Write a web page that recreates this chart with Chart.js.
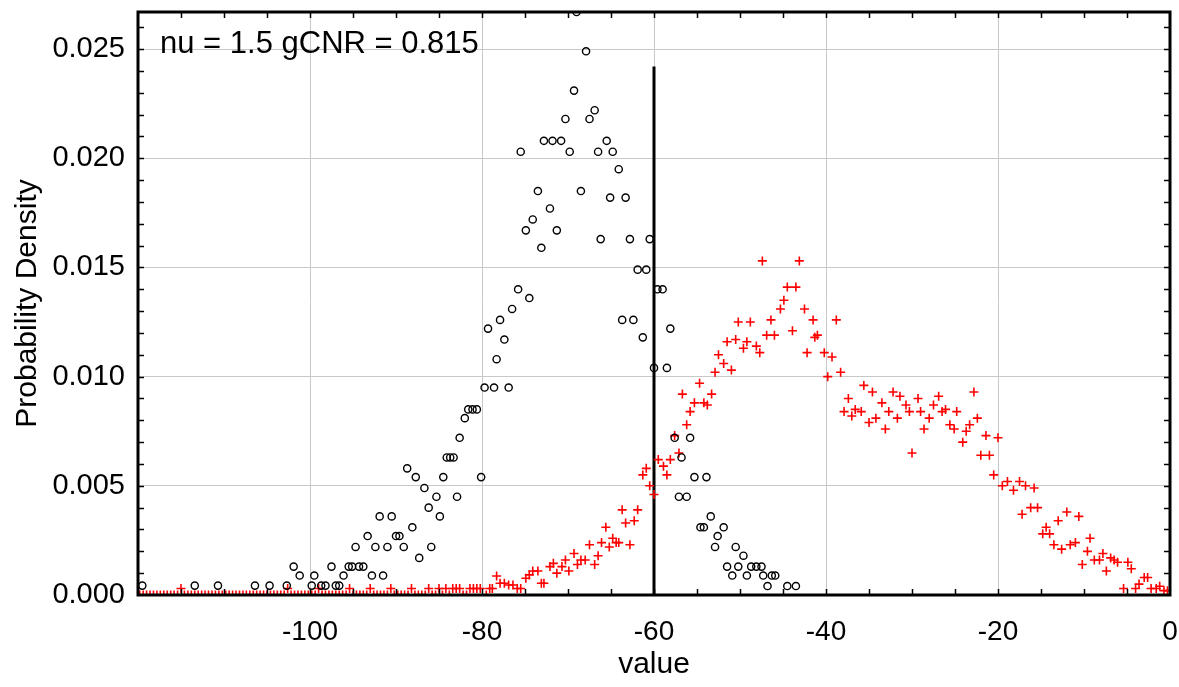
<!DOCTYPE html>
<html lang="en">
<head>
<meta charset="UTF-8">
<title>Probability Density</title>
<script src="https://cdn.jsdelivr.net/npm/chart.js"></script>
<style>
  html, body { margin: 0; padding: 0; background: #fff; }
  canvas { display: block; }
</style>
</head>
<body>
<canvas id="grafico" width="1179" height="687"></canvas>
<script>
// ---- dados ----
const blackX = [-119.5,-113.4,-110.7,-106.4,-104.7,-102.7,-101.9,-101.2,-99.8,-99.5,
  -98.7,-98.2,-97.5,-97.0,-96.6,-96.1,-95.5,-95.1,-94.7,-94.3,
  -93.8,-93.3,-92.8,-92.4,-91.9,-91.5,-91.0,-90.5,-90.0,-89.6,
  -89.1,-88.7,-88.1,-87.7,-87.3,-86.7,-86.2,-85.9,-85.3,-84.9,
  -84.5,-84.1,-83.7,-83.3,-82.9,-82.6,-82.0,-81.6,-81.1,-80.6,
  -80.1,-79.7,-79.3,-78.6,-78.3,-77.9,-77.4,-76.9,-76.5,-75.8,
  -75.5,-74.9,-74.5,-74.1,-73.5,-73.1,-72.8,-72.1,-71.8,-71.3,
  -70.8,-70.3,-69.8,-69.3,-69.0,-68.5,-67.9,-67.5,-66.9,-66.5,
  -66.2,-65.5,-65.1,-64.8,-64.1,-63.7,-63.3,-62.8,-62.4,-61.9,
  -61.3,-60.9,-60.5,-60.0,-59.6,-59.0,-58.5,-58.1,-57.6,-57.1,
  -56.8,-56.2,-55.8,-55.3,-54.6,-54.2,-53.9,-53.4,-52.9,-52.6,
  -51.9,-51.5,-50.9,-50.5,-50.2,-49.6,-49.2,-48.7,-48.1,-47.5,
  -47.3,-46.8,-46.3,-45.9,-44.5,-43.5];
const blackY = [0.00043,0.00043,0.00043,0.00043,0.00043,0.00043,0.0013,0.00089,0.00043,0.00089,
  0.00043,0.00043,0.0013,0.00043,0.00043,0.00089,0.0013,0.0013,0.0022,0.0013,
  0.0013,0.0027,0.00089,0.0022,0.0036,0.00089,0.0022,0.0036,0.0027,0.0027,
  0.0022,0.0058,0.0031,0.0054,0.0017,0.0049,0.0040,0.0022,0.0045,0.0036,
  0.0054,0.0063,0.0063,0.0063,0.0045,0.0072,0.0081,0.0085,0.0085,0.0085,
  0.0054,0.0095,0.0122,0.0095,0.0108,0.0126,0.0117,0.0095,0.0131,0.0140,
  0.0203,0.0167,0.0136,0.0172,0.0185,0.0159,0.0208,0.0177,0.0208,0.0167,
  0.0208,0.0218,0.0203,0.0231,0.0267,0.0185,0.0249,0.0218,0.0222,0.0203,
  0.0163,0.0208,0.0182,0.0203,0.0195,0.0126,0.0182,0.0163,0.0126,0.0149,
  0.0118,0.0149,0.0163,0.0104,0.0140,0.0140,0.0104,0.0122,0.0072,0.0045,
  0.0063,0.0045,0.0072,0.0054,0.0031,0.0031,0.0054,0.0036,0.0022,0.0027,
  0.0031,0.0013,0.00089,0.0022,0.0013,0.0018,0.00089,0.0013,0.0013,0.0013,
  0.00089,0.00041,0.00089,0.00089,0.00041,0.00041];

const redX = [-119.8,-119.4,-119.0,-118.6,-118.2,-117.8,-117.4,-117.0,-116.6,-116.2,
  -115.8,-115.4,-115.0,-114.6,-114.2,-113.8,-113.4,-113.0,-112.6,-112.2,
  -111.8,-111.4,-111.0,-110.6,-110.2,-109.8,-109.4,-109.0,-108.6,-108.2,
  -107.8,-107.4,-107.0,-106.6,-106.2,-105.8,-105.4,-105.0,-104.6,-104.2,
  -103.8,-103.4,-103.0,-102.6,-102.2,-101.8,-101.4,-101.0,-100.6,-100.2,
  -99.8,-99.4,-99.0,-98.6,-98.2,-97.8,-97.4,-97.0,-96.6,-96.2,
  -95.8,-95.4,-95.0,-94.6,-94.2,-93.8,-93.4,-93.0,-92.6,-92.2,
  -91.8,-91.4,-91.0,-90.6,-90.2,-89.8,-89.4,-89.0,-88.6,-88.2,
  -87.8,-87.4,-87.0,-86.6,-86.2,-85.8,-85.4,-85.0,-84.6,-84.2,
  -83.8,-83.4,-83.0,-82.6,-82.2,-81.8,-81.4,-81.0,-80.6,-80.2,
  -79.5,-79.1,-78.8,-78.3,-77.9,-77.4,-76.9,-76.4,-75.9,-75.5,
  -74.9,-74.5,-74.1,-73.5,-73.1,-72.8,-72.1,-71.7,-71.3,-70.7,
  -70.3,-69.9,-69.3,-68.9,-68.5,-68.0,-67.5,-66.9,-66.5,-66.1,
  -65.6,-65.2,-64.8,-64.4,-64.1,-63.7,-63.3,-62.8,-62.3,-61.9,
  -61.3,-60.9,-60.5,-60.0,-59.5,-58.9,-58.5,-58.1,-57.6,-57.1,
  -56.7,-56.2,-55.8,-55.3,-54.7,-54.2,-53.8,-53.3,-52.9,-52.5,
  -51.9,-51.5,-51.0,-50.5,-50.2,-49.6,-49.2,-48.8,-48.1,-47.7,
  -47.4,-46.9,-46.4,-46.0,-45.3,-44.9,-44.5,-43.9,-43.5,-43.1,
  -42.5,-42.2,-41.5,-41.3,-41.0,-40.2,-39.8,-39.3,-38.8,-38.3,
  -37.9,-37.4,-37.0,-36.6,-35.9,-35.6,-35.0,-34.6,-34.2,-33.5,
  -33.1,-32.7,-32.2,-31.7,-31.4,-30.7,-30.3,-30.0,-29.3,-29.0,
  -28.6,-28.0,-27.5,-26.9,-26.5,-26.1,-25.6,-25.1,-24.8,-24.1,
  -23.7,-23.3,-22.8,-22.4,-22.0,-21.4,-21.0,-20.5,-20.0,-19.5,
  -18.9,-18.2,-17.5,-17.2,-16.8,-16.2,-15.8,-15.4,-14.8,-14.4,
  -14.0,-13.5,-13.0,-12.6,-12.0,-11.6,-11.0,-10.6,-10.2,-9.6,
  -9.3,-8.8,-8.2,-7.8,-7.4,-6.9,-6.5,-6.1,-5.4,-4.9,
  -4.5,-4.0,-3.6,-3.0,-2.6,-2.2,-1.6,-1.2,-0.7,-0.3];
const redY = [0,0,0,0,0,0,0,0,0,0,
  0,0,0.0003,0,0,0,0,0,0,0,
  0,0,0,0,0,0,0,0,0,0,
  0,0,0,0,0,0,0,0,0,0,
  0,0,0,0.0003,0,0,0,0,0,0,
  0,0,0.0003,0,0,0,0,0,0,0,
  0,0.0003,0,0,0,0,0,0.0003,0,0,
  0,0,0,0.0003,0,0,0,0,0,0.0003,
  0,0,0,0,0.0003,0,0,0.0003,0,0.0003,
  0,0.0003,0.0003,0.0003,0,0,0.0003,0.0003,0.0003,0.0003,
  0,0.0003,0.0003,0.00087,0.00054,0.00054,0.00046,0.00046,0.0003,0.0003,
  0.00077,0.00092,0.0011,0.0011,0.00054,0.00054,0.0013,0.00145,0.0010,0.0013,
  0.0016,0.0011,0.0019,0.0014,0.0016,0.0016,0.0023,0.0014,0.0018,0.0024,
  0.0031,0.0022,0.0026,0.0024,0.0024,0.0039,0.0033,0.0023,0.0034,0.0039,
  0.0055,0.0058,0.0050,0.0046,0.0062,0.0059,0.0055,0.0062,0.0073,0.0065,
  0.0092,0.0078,0.0084,0.0088,0.0097,0.0088,0.0087,0.0092,0.0102,0.0110,
  0.0106,0.0116,0.0103,0.0117,0.0125,0.0113,0.0116,0.0125,0.0114,0.0111,
  0.0153,0.0119,0.0126,0.0119,0.0131,0.0135,0.0141,0.0121,0.0141,0.0153,
  0.0131,0.0111,0.0126,0.0118,0.0119,0.0111,0.0100,0.0109,0.0126,0.0102,
  0.0084,0.0090,0.0082,0.0085,0.0084,0.0096,0.0079,0.0093,0.0081,0.0088,
  0.0076,0.0084,0.0093,0.0081,0.0091,0.0087,0.0084,0.0065,0.0090,0.0084,
  0.0076,0.0081,0.0087,0.0091,0.0084,0.0085,0.0078,0.0076,0.0084,0.0070,
  0.0075,0.0078,0.0093,0.0081,0.0064,0.0073,0.0064,0.0055,0.0072,0.0050,
  0.0052,0.0048,0.0052,0.0037,0.0050,0.0040,0.0049,0.0040,0.0028,0.0031,
  0.0028,0.0023,0.0034,0.0021,0.0038,0.0023,0.0024,0.0036,0.0014,0.0020,
  0.0026,0.0016,0.0016,0.0019,0.0011,0.0017,0.0016,0.0015,0.0003,0.0015,
  0.0012,0.0003,0.0005,0.0008,0.0008,0.0003,0.0003,0.0004,0.0002,0.0002];

// linha de corte
const cutX = [-60, -60];
const cutY = [0, 0.0242];

const xTicks = [-100, -80, -60, -40, -20, 0];
const yTicks = [0.000, 0.005, 0.010, 0.015, 0.020, 0.025];
const rotulo = 'nu = 1.5 gCNR = 0.815';

const fonte = '"Liberation Sans", Arial, Helvetica, sans-serif';

function pares(xs, ys) {
  return xs.map((x, i) => ({ x: x, y: ys[i] }));
}

// moldura preta com tracinhos para dentro + texto
const moldura = {
  id: 'moldura',
  afterDatasetsDraw(chart) {
    const ctx = chart.ctx;
    const a = chart.chartArea;
    const sx = chart.scales.x;
    const sy = chart.scales.y;
    ctx.save();
    ctx.strokeStyle = '#000';
    ctx.lineWidth = 1.5;
    ctx.beginPath();
    for (let v = -115; v < 0; v += 5) {
      const px = Math.round(sx.getPixelForValue(v)) + 0.5;
      ctx.moveTo(px, a.top); ctx.lineTo(px, a.top + 6);
      ctx.moveTo(px, a.bottom); ctx.lineTo(px, a.bottom - 6);
    }
    for (let k = 1; k <= 26; k++) {
      const py = Math.round(sy.getPixelForValue(k * 0.001)) + 0.5;
      ctx.moveTo(a.left, py); ctx.lineTo(a.left + 6, py);
      ctx.moveTo(a.right, py); ctx.lineTo(a.right - 6, py);
    }
    ctx.stroke();
    ctx.lineWidth = 3;
    ctx.strokeRect(a.left, a.top, a.right - a.left, a.bottom - a.top);

    ctx.fillStyle = '#000';
    ctx.font = '31px ' + fonte;
    ctx.textBaseline = 'alphabetic';
    ctx.fillText(rotulo, a.left + 22, a.top + 41);
    ctx.restore();
  }
};

const config = {
  type: 'scatter',
  data: {
    datasets: [
      {
        label: 'fundo',
        data: pares(blackX, blackY),
        pointStyle: 'circle',
        pointRadius: 3.6,
        pointBorderWidth: 1.4,
        borderColor: '#000',
        backgroundColor: 'rgba(0,0,0,0)',
        clip: 0
      },
      {
        label: 'alvo',
        data: pares(redX, redY),
        pointStyle: 'cross',
        pointRadius: 4.5,
        pointBorderWidth: 1.6,
        borderColor: '#ff0000',
        backgroundColor: '#ff0000',
        clip: 0
      },
      {
        type: 'line',
        label: 'corte',
        data: pares(cutX, cutY),
        borderColor: '#000',
        borderWidth: 3,
        pointRadius: 0,
        showLine: true,
        clip: 0
      }
    ]
  },
  options: {
    responsive: false,
    animation: false,
    devicePixelRatio: 1,
    layout: { padding: { left: 0, top: 12, right: 9, bottom: 0 } },
    plugins: {
      legend: { display: false },
      tooltip: { enabled: false }
    },
    scales: {
      x: {
        type: 'linear',
        min: -120,
        max: 0,
        afterBuildTicks(s) { s.ticks = xTicks.map(v => ({ value: v })); },
        afterFit(s) { s.height = 92; s.paddingLeft = 0; s.paddingRight = 0; },
        grid: { color: '#c8c8c8', lineWidth: 1, drawTicks: false },
        border: { display: false },
        ticks: {
          color: '#000',
          padding: 20,
          maxRotation: 0,
          font: { family: fonte, size: 28 },
          callback: v => String(v)
        },
        title: {
          display: true,
          text: 'value',
          color: '#000',
          font: { family: fonte, size: 30 },
          padding: { top: 0, bottom: 4 }
        }
      },
      y: {
        type: 'linear',
        min: 0,
        max: 0.0267,
        afterBuildTicks(s) { s.ticks = yTicks.map(v => ({ value: v })); },
        afterFit(s) { s.width = 138; s.paddingTop = 0; s.paddingBottom = 0; },
        grid: { color: '#c8c8c8', lineWidth: 1, drawTicks: false },
        border: { display: false },
        ticks: {
          color: '#000',
          padding: 13,
          font: { family: fonte, size: 29 },
          callback: v => v.toFixed(3)
        },
        title: {
          display: true,
          text: 'Probability Density',
          color: '#000',
          font: { family: fonte, size: 30 },
          padding: { top: 10, bottom: 0 }
        }
      }
    }
  },
  plugins: [moldura]
};

new Chart(document.getElementById('grafico'), config);
</script>
</body>
</html>
